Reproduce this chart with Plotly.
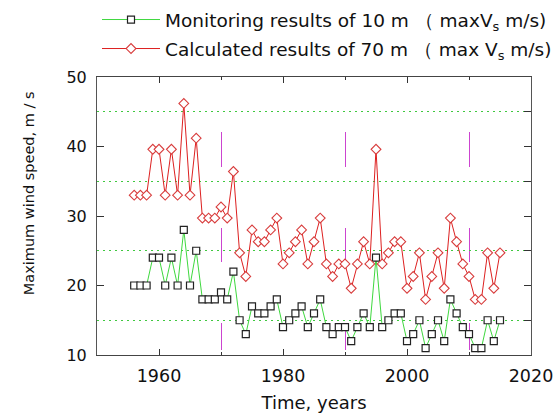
import plotly.graph_objects as go

years = list(range(1956, 2016))

calc_70m = [33.0, 33.0, 33.0, 39.6, 39.6, 33.0, 39.6, 33.0, 46.2, 33.0,
            41.2, 29.7, 29.7, 29.7, 31.3, 29.7, 36.4, 24.7, 21.3, 28.0,
            26.3, 26.3, 28.0, 29.7, 23.1, 24.7, 26.3, 28.0, 23.1, 26.3,
            29.7, 23.1, 21.3, 23.1, 23.1, 19.6, 23.1, 26.3, 23.1, 39.6,
            23.1, 24.7, 26.3, 26.3, 19.6, 21.3, 24.7, 18.0, 21.3, 24.7,
            19.6, 29.7, 26.3, 23.1, 21.3, 18.0, 18.0, 24.7, 19.6, 24.7]

monit_10m = [20, 20, 20, 24, 24, 20, 24, 20, 28, 20,
             25, 18, 18, 18, 19, 18, 22, 15, 13, 17,
             16, 16, 17, 18, 14, 15, 16, 17, 14, 16,
             18, 14, 13, 14, 14, 12, 14, 16, 14, 24,
             14, 15, 16, 16, 12, 13, 15, 11, 13, 15,
             12, 18, 16, 14, 13, 11, 11, 15, 12, 15]

x_ticks = [1960, 1980, 2000, 2020]
y_ticks = [10, 20, 30, 40, 50]
x_grid = [1970, 1990, 2010]
y_grid = [15, 25, 35, 45]

name_monit = "Monitoring results of 10 m （ maxV<sub>s</sub> m/s)"
name_calc = "Calculated results of 70 m （ max V<sub>s</sub> m/s)"

FONT = "DejaVu Sans, Liberation Sans, Arial"
XR = [1950, 2020]
YR = [10, 50]

fig = go.Figure()
# helper trace for the grid overlay axes
fig.add_trace(go.Scatter(x=[None], y=[None], xaxis="x2", yaxis="y2",
                         showlegend=False, hoverinfo="skip"))
fig.add_trace(go.Scatter(
    x=years, y=monit_10m, name=name_monit, mode="lines+markers",
    line=dict(color="#3fd83f", width=1),
    marker=dict(symbol="square", size=7, color="white",
                line=dict(color="#222222", width=1.2)),
    legend="legend",
))
fig.add_trace(go.Scatter(
    x=years, y=calc_70m, name=name_calc, mode="lines+markers",
    line=dict(color="#dd2020", width=1),
    marker=dict(symbol="diamond", size=7.5, color="white",
                line=dict(color="#d83c3c", width=1.1)),
    legend="legend2",
))

leg_common = dict(x=0.0, xanchor="left", yanchor="middle", yref="container",
                  font=dict(size=18.5, family=FONT), bgcolor="rgba(0,0,0,0)",
                  itemwidth=58)

fig.update_layout(
    width=559, height=414,
    margin=dict(l=97, r=28, t=77, b=59, autoexpand=False),
    paper_bgcolor="white", plot_bgcolor="white",
    font=dict(family=FONT, color="#111111"),
    showlegend=True,
    legend=dict(y=1 - 20 / 414, **leg_common),
    legend2=dict(y=1 - 49 / 414, **leg_common),
    xaxis=dict(
        range=XR, tickvals=x_ticks, automargin=False,
        ticks="inside", ticklen=6, tickcolor="#333",
        showline=True, linecolor="#444", linewidth=1, mirror="ticks",
        showgrid=False, zeroline=False,
        tickfont=dict(size=17.5, family=FONT), ticklabelstandoff=5,
        title=dict(text="Time, years", font=dict(size=18, family=FONT), standoff=11),
        minor=dict(dtick=10, tick0=1950, ticks="inside", ticklen=3, tickcolor="#333",
                   showgrid=False),
    ),
    yaxis=dict(
        range=YR, tickvals=y_ticks, automargin=False,
        ticks="inside", ticklen=7, tickcolor="#333",
        showline=True, linecolor="#555", linewidth=1, mirror="ticks",
        showgrid=False, zeroline=False,
        tickfont=dict(size=16, family=FONT), ticklabelstandoff=6,
    ),
    xaxis2=dict(
        range=XR, overlaying="x", tickvals=x_grid, showticklabels=False,
        ticks="", showline=False, zeroline=False, automargin=False,
        showgrid=True, gridcolor="#cc44d0", gridwidth=1,
        griddash="0px,55px,35px,61px,34px,61px,27px,20px",
    ),
    yaxis2=dict(
        range=YR, overlaying="y", side="right", tickvals=y_grid,
        showticklabels=False, ticks="inside", ticklen=7, tickcolor="#333",
        showline=False, zeroline=False, automargin=False,
        showgrid=True, gridcolor="#40c840", gridwidth=1, griddash="2px,4px",
    ),
    annotations=[dict(
        text="Maximum wind speed, m / s", textangle=-90,
        xref="paper", yref="paper", x=-0.155, y=0.581,
        xanchor="center", yanchor="middle", showarrow=False,
        font=dict(size=14.5, family=FONT, color="#111111"),
    )],
)

fig.write_html("out.html")
